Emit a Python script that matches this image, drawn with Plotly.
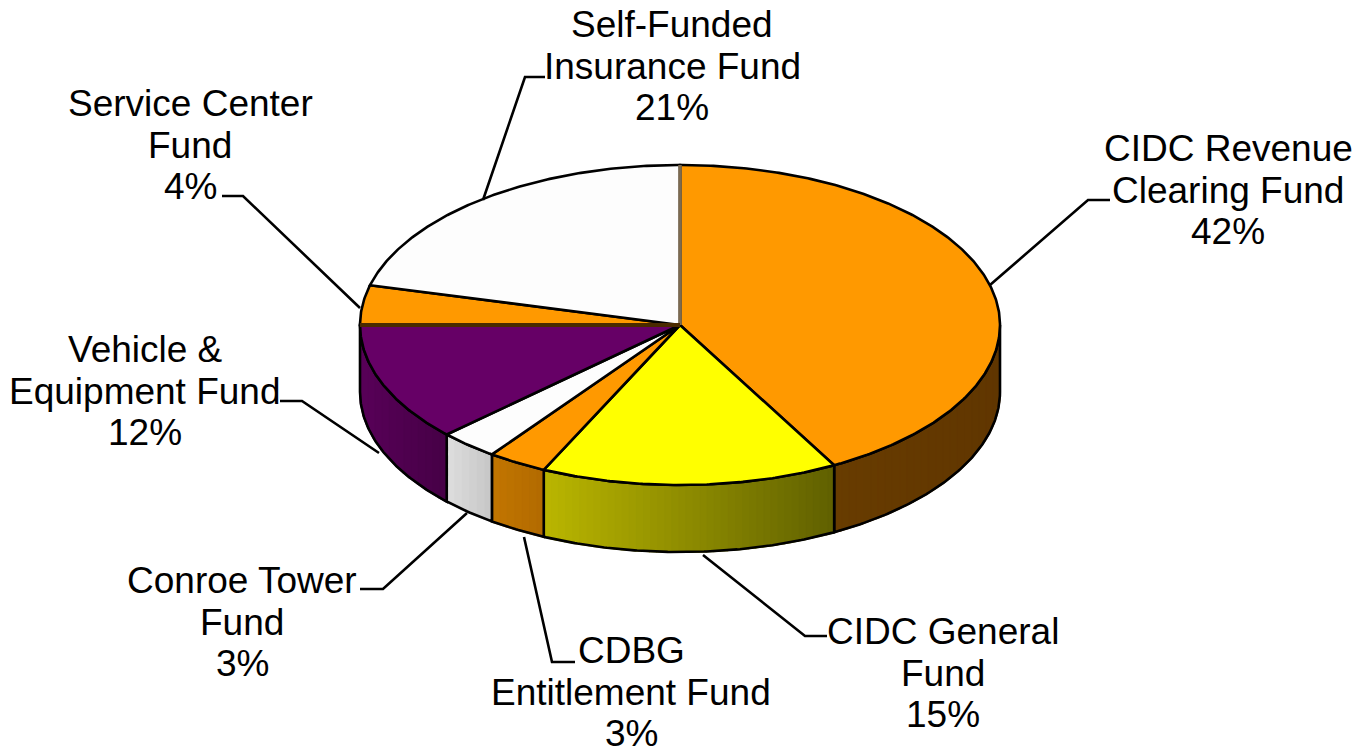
import numpy as np
import plotly.graph_objects as go

# Fund shares, clockwise from twelve o'clock
funds = ["CIDC Revenue<br>Clearing Fund", "CIDC General<br>Fund", "CDBG<br>Entitlement Fund",
         "Conroe Tower<br>Fund", "Vehicle &<br>Equipment Fund", "Service Center<br>Fund",
         "Self-Funded<br>Insurance Fund"]
shares = [42, 15, 3, 3, 12, 4, 21]

top_colors = ["#FF9900", "#FFFF00", "#FF9900", "#FDFDFD", "#660066", "#FF9900", "#FDFDFD"]
# Wall shading for each slice: colour at the left and right end of the visible wall
wall_left = [(104, 60, 0), (186, 182, 0), (194, 118, 0), (222, 222, 222), (88, 0, 88), (0, 0, 0), (0, 0, 0)]
wall_right = [(96, 54, 0), (96, 96, 0), (178, 106, 0), (198, 198, 198), (70, 0, 70), (0, 0, 0), (0, 0, 0)]

# Pie geometry in page pixels
CX, CY, RX, RY, DEPTH = 680, 325, 320, 160, 67
FONT = "Liberation Sans"
FONT_SIZE = 37
LINE_GAP = 41.5
STRIP_PX = 7

# Label centre (x, y of the middle line) and leader path for each fund
label_pos = [(1228, 190), (943, 673), (631, 692), (242, 622), (145, 391), (190, 145), (672, 66)]
leaders = [
    [(990, 285), (1088, 200), (1110, 200)],
    [(703, 555), (805, 636), (827, 636)],
    [(524, 537), (552, 662), (575, 662)],
    [(467, 513), (383, 589), (360, 589)],
    [(379, 453), (302, 401), (280, 401)],
    [(360, 308), (243, 196), (222, 196)],
    [(483, 200), (525, 77), (545, 77)],
]


def rim(angle_deg, drop=0.0):
    t = np.radians(angle_deg)
    return CX + RX * np.sin(t), CY - RY * np.cos(t) + drop


def arc(a0, a1, drop=0.0, step=0.5):
    n = max(2, int(abs(a1 - a0) / step) + 1)
    return rim(np.linspace(a0, a1, n), drop)


def angle_at_x(x):
    # Front half of the rim: angle runs from 90 (right) to 270 (left)
    return 180 - np.degrees(np.arcsin(np.clip((x - CX) / RX, -1, 1)))


bounds = np.cumsum([0] + shares) * 3.6
fig = go.Figure()

# Outer walls: only the front half of the disc is visible, shaded in vertical bands
for i, share in enumerate(shares):
    a0, a1 = max(bounds[i], 90), min(bounds[i + 1], 270)
    if a1 <= a0:
        continue
    x_right, x_left = rim(a0)[0], rim(a1)[0]
    n_strips = max(2, int((x_right - x_left) / STRIP_PX))
    edges = angle_at_x(np.linspace(x_right, x_left, n_strips + 1))
    edges[0], edges[-1] = a0, a1
    for s0, s1 in zip(edges[:-1], edges[1:]):
        xmid = (rim(s0)[0] + rim(s1)[0]) / 2
        f = (xmid - x_left) / (x_right - x_left)
        rgb = [round(l + (r - l) * f) for l, r in zip(wall_left[i], wall_right[i])]
        color = f"rgb({rgb[0]},{rgb[1]},{rgb[2]})"
        xt, yt = arc(s0, s1)
        xb, yb = arc(s1, s0, DEPTH)
        fig.add_trace(go.Scatter(x=np.r_[xt, xb], y=np.r_[yt, yb], fill="toself", fillcolor=color,
                                 mode="lines", line=dict(color=color, width=2), hoverinfo="skip"))
    xt, yt = arc(a0, a1)
    xb, yb = arc(a1, a0, DEPTH)
    fig.add_trace(go.Scatter(x=np.r_[xt, xb, xt[0]], y=np.r_[yt, yb, yt[0]], mode="lines",
                             line=dict(color="black", width=2.6), hoverinfo="skip"))

# Top face of each slice
for i, share in enumerate(shares):
    xa, ya = arc(bounds[i], bounds[i + 1])
    fig.add_trace(go.Scatter(x=np.r_[CX, xa, CX], y=np.r_[CY, ya, CY], fill="toself",
                             fillcolor=top_colors[i], mode="lines",
                             line=dict(color="black", width=2.6), hoverinfo="skip"))

# Softer dividers on the two radii that read as shaded edges
for angle, color, width in [(0, "#7C6A50", 3.5), (bounds[5], "#4A2A00", 4)]:
    xe, ye = rim(angle)
    fig.add_trace(go.Scatter(x=[CX, xe], y=[CY, ye], mode="lines",
                             line=dict(color=color, width=width), hoverinfo="skip"))

# Leader lines and their labels
for path in leaders:
    fig.add_trace(go.Scatter(x=[p[0] for p in path], y=[p[1] for p in path], mode="lines",
                             line=dict(color="black", width=2.6), hoverinfo="skip"))

annotations = []
for name, share, (x, y) in zip(funds, shares, label_pos):
    lines = name.split("<br>") + [f"{share}%"]
    for k, line in enumerate(lines):
        annotations.append(dict(x=x, y=y + (k - 1) * LINE_GAP, xref="x", yref="y", text=line,
                                showarrow=False, xanchor="center", yanchor="middle", align="center",
                                font=dict(family=FONT, size=FONT_SIZE, color="black")))

fig.update_layout(
    width=1369, height=754, margin=dict(l=0, r=0, t=0, b=0),
    paper_bgcolor="white", plot_bgcolor="white", showlegend=False,
    xaxis=dict(range=[0, 1369], visible=False, fixedrange=True),
    yaxis=dict(range=[754, 0], visible=False, fixedrange=True),
    annotations=annotations,
)
fig.write_html("out.html", config={"displayModeBar": False})
